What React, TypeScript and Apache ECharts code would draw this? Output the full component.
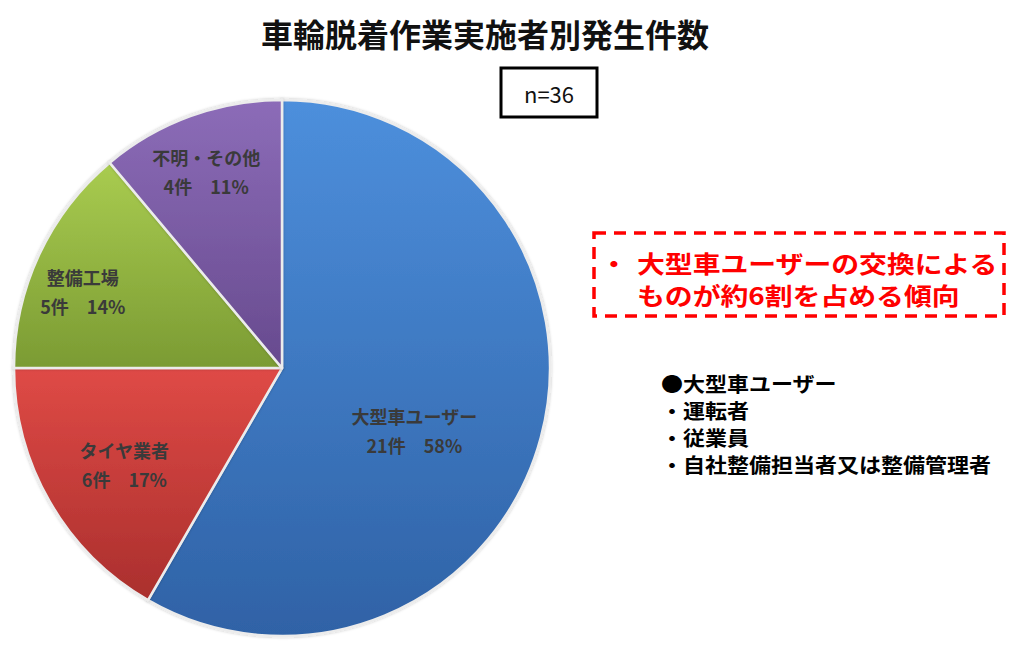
import React, { useEffect, useRef } from 'react';
import * as echarts from 'echarts';

// 実施者区分と件数
const categories = ['大型車ユーザー', 'タイヤ業者', '整備工場', '不明・その他'];
const counts = [21, 6, 5, 4];
const totalLabel = 'n=36';

const noteLines = ['大型車ユーザーの交換による', 'ものが約6割を占める傾向'];
const userHeading = '●大型車ユーザー';
const userItems = ['・運転者', '・従業員', '・自社整備担当者又は整備管理者'];

const FONT = '"Noto Sans CJK JP", "Noto Sans", sans-serif';

const App: React.FC = () => {
  const chartRef = useRef<HTMLDivElement>(null);

  useEffect(() => {
    if (!chartRef.current) return;
    const chart = echarts.init(chartRef.current, null, { renderer: 'svg' });

    // スライスの色（上→下のグラデーション）
    const sliceColors = [
      ['#4d8fdc', '#2f62a6'],
      ['#df4a46', '#aa2f2d'],
      ['#a9cc50', '#7b9b33'],
      ['#8c6cb8', '#674a8e'],
    ];
    // ラベル位置の微調整
    const labelOffsets = [
      [0, 27],
      [-39, 28],
      [-75, -19],
      [-29, -68],
    ];

    const pieData = categories.map((name, i) => ({
      name,
      value: counts[i],
      itemStyle: {
        color: new echarts.graphic.LinearGradient(0, 0, 0, 1, [
          { offset: 0, color: sliceColors[i][0] },
          { offset: 1, color: sliceColors[i][1] },
        ]),
      },
      label: { offset: labelOffsets[i] },
    }));

    const noteStyle = {
      fontFamily: FONT,
      fontSize: 24,
      lineHeight: 32,
      fontWeight: 'bold' as const,
      fill: '#ff0000',
    };

    const option: echarts.EChartsOption = {
      animation: false,
      backgroundColor: '#ffffff',
      title: {
        text: '車輪脱着作業実施者別発生件数',
        left: 480,
        top: 12,
        textAlign: 'center',
        textStyle: {
          fontFamily: FONT,
          fontSize: 32,
          fontWeight: 'bold',
          color: '#111111',
        },
      },
      series: [
        {
          type: 'pie',
          center: [282, 368],
          radius: [0, 268],
          startAngle: 90,
          clockwise: true,
          percentPrecision: 0,
          data: pieData,
          itemStyle: {
            borderColor: '#ececec',
            borderWidth: 2.5,
            shadowBlur: 3,
            shadowColor: 'rgba(0,0,0,0.25)',
          },
          label: {
            show: true,
            position: 'inside',
            formatter: '{b}\n{c}件　{d}%',
            fontFamily: FONT,
            fontSize: 18,
            fontWeight: 'bold',
            lineHeight: 29,
            color: '#3a3a3a',
            align: 'center',
          },
          labelLine: { show: false },
          emphasis: { disabled: true },
        },
      ],
      graphic: [
        // n=36 の枠
        {
          type: 'rect',
          shape: { x: 501, y: 68, width: 96, height: 49 },
          style: { fill: '#ffffff', stroke: '#000000', lineWidth: 3 },
        },
        {
          type: 'text',
          x: 549,
          y: 93,
          style: {
            text: totalLabel,
            fontFamily: FONT,
            fontSize: 22,
            fill: '#111111',
            textAlign: 'center',
            textVerticalAlign: 'middle',
          },
        },
        // 赤い破線の注記
        {
          type: 'rect',
          shape: { x: 594, y: 233, width: 410, height: 83 },
          style: {
            fill: 'none',
            stroke: '#ff0000',
            lineWidth: 3.5,
            lineDash: [12, 8],
          },
        },
        {
          type: 'text',
          x: 600,
          y: 246,
          scaleX: 1.16,
          style: { ...noteStyle, text: '・' },
        },
        {
          type: 'text',
          x: 637,
          y: 246,
          scaleX: 1.16,
          style: { ...noteStyle, text: noteLines.join('\n') },
        },
        // 大型車ユーザーの内訳
        {
          type: 'text',
          x: 661,
          y: 370,
          scaleX: 1.1,
          style: {
            text: [userHeading, ...userItems].join('\n'),
            fontFamily: FONT,
            fontSize: 20,
            lineHeight: 27,
            fontWeight: 'bold',
            fill: '#000000',
          },
        },
      ],
    };

    chart.setOption(option);

    const handleResize = () => chart.resize();
    window.addEventListener('resize', handleResize);
    return () => {
      window.removeEventListener('resize', handleResize);
      chart.dispose();
    };
  }, []);

  return (
    <div
      ref={chartRef}
      style={{ position: 'fixed', left: 0, top: 0, width: '1024px', height: '649px' }}
    />
  );
};

export default App;
